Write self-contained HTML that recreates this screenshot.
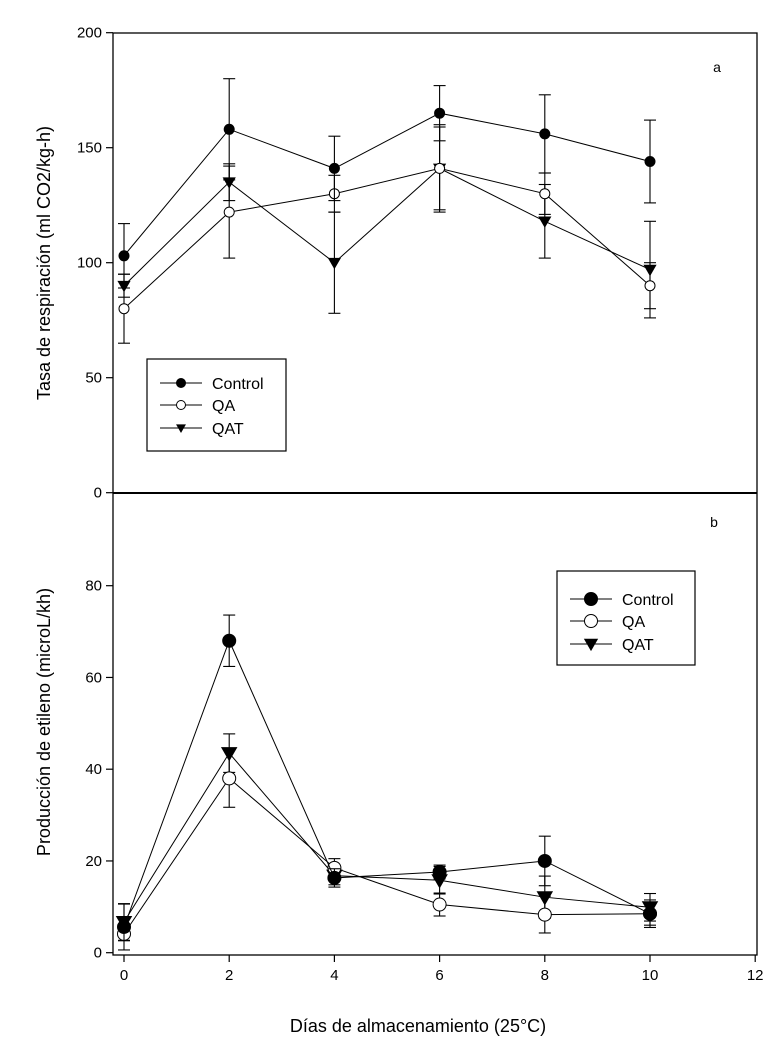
<!DOCTYPE html>
<html><head><meta charset="utf-8"><style>
body{margin:0;background:#fff;}
svg{display:block;font-family:"Liberation Sans",Arial,sans-serif;}
</style></head><body>
<svg id="c" width="775" height="1043" viewBox="0 0 775 1043"></svg>
<script>
const days=[0,2,4,6,8,10];
const xTicks=[0,2,4,6,8,10,12];
const topTicks=[0,50,100,150,200];
const botTicks=[0,20,40,60,80];
const respControl=[103,158,141,165,156,144];
const respControlErr=[14,22,14,12,17,18];
const respQA=[80,122,130,141,130,90];
const respQAErr=[15,20,8,19,9,10];
const respQAT=[90,135,100,141,118,97];
const respQATErr=[5,8,22,18,16,21];
const ethControl=[5.6,68,16.3,17.6,20,8.5];
const ethControlErr=[5,5.6,2,1.5,5.4,2.5];
const ethQA=[4.1,38,18.5,10.5,8.3,8.5];
const ethQAErr=[1.5,6.3,2,2.5,4,3];
const ethQAT=[6.7,43.5,16.8,15.8,12.1,9.9];
const ethQATErr=[4,4.2,2,3,4.6,3];

const NS="http://www.w3.org/2000/svg";
const svg=document.getElementById('c');
function mk(tag,attrs,parent){const e=document.createElementNS(NS,tag);for(const k in attrs)e.setAttribute(k,attrs[k]);(parent||svg).appendChild(e);return e;}
const L=113,R=757,T=33,M=493,B=955;
const xS=v=>124+v*52.6;
const yTop=v=>492.7-v*2.3;
const yBot=v=>952.7-v*4.5875;

// frame
let f=mk('rect',{x:L,y:T,width:R-L,height:B-T,fill:'none',stroke:'#000','stroke-width':1.3});


let ml=mk('line',{x1:L,x2:R,y1:M,y2:M,stroke:'#000','stroke-width':2});



function text(x,y,s,size,anchor,name,extra){const t=mk('text',Object.assign({x:x,y:y,'font-size':size,'text-anchor':anchor,fill:'#000'},extra||{}));t.textContent=s;


return t;}

topTicks.forEach(v=>{const y=yTop(v);
 const l=mk('line',{x1:L-7,x2:L,y1:y,y2:y,stroke:'#000','stroke-width':1.2});
 
 
 text(L-11,y+5,String(v),15,'end','y-tick-label-top');});
botTicks.forEach(v=>{const y=yBot(v);
 const l=mk('line',{x1:L-7,x2:L,y1:y,y2:y,stroke:'#000','stroke-width':1.2});
 
 
 text(L-11,y+5,String(v),15,'end','y-tick-label-bottom');});
xTicks.forEach(v=>{const x=xS(v);
 const l=mk('line',{x1:x,x2:x,y1:B,y2:B+7,stroke:'#000','stroke-width':1.2});
 
 
 text(x,B+25,String(v),15,'middle','x-tick-label');});

text(418,1032,'Días de almacenamiento (25°C)',18,'middle','x-axis-title');
text(50,263,'Tasa de respiración (ml CO2/kg-h)',18,'middle','y-axis-title-top',{transform:'rotate(-90 50 263)'});
text(50,722,'Producción de etileno (microL/kh)',18,'middle','y-axis-title-bottom',{transform:'rotate(-90 50 722)'});
text(717,72,'a',14,'middle','panel-label-a');
text(714,527,'b',14,'middle','panel-label-b');

function marker(x,y,type,r,name){let e;
 if(type==='tri'){e=mk('polygon',{points:`${x-r*1.1},${y-r*0.8} ${x+r*1.1},${y-r*0.8} ${x},${y+r*1.1}`,fill:'#000'});}
 else e=mk('circle',{cx:x,cy:y,r:r,fill:type==='open'?'#fff':'#000',stroke:'#000','stroke-width':1});
 
 }

function series(vals,errs,ys,type,r,name){
 const g=mk('g',{});
 
 
 errs.forEach((e,i)=>{const x=xS(days[i]);
  mk('line',{x1:x,x2:x,y1:ys(vals[i]+e),y2:ys(vals[i]-e),stroke:'#000','stroke-width':1.1},g);
  [vals[i]+e,vals[i]-e].forEach(v=>mk('line',{x1:x-6,x2:x+6,y1:ys(v),y2:ys(v),stroke:'#000','stroke-width':1.1},g));});
 mk('polyline',{points:vals.map((v,i)=>xS(days[i])+','+ys(v)).join(' '),fill:'none',stroke:'#000','stroke-width':1},g);
 vals.forEach((v,i)=>marker(xS(days[i]),ys(v),type,r,name+'-point'));}

series(respQAT,respQATErr,yTop,'tri',6,'resp-qat');
series(respQA,respQAErr,yTop,'open',5,'resp-qa');
series(respControl,respControlErr,yTop,'fill',5,'resp-control');
series(ethQAT,ethQATErr,yBot,'tri',7.5,'eth-qat');
series(ethQA,ethQAErr,yBot,'open',6.5,'eth-qa');
series(ethControl,ethControlErr,yBot,'fill',6.5,'eth-control');

function legend(x,y,w,h,rows,r,name){
 const b=mk('rect',{x:x,y:y,width:w,height:h,fill:'#fff',stroke:'#000','stroke-width':1.2});
 
 
 const labels=['Control','QA','QAT'],types=['fill','open','tri'];
 labels.forEach((s,i)=>{const yy=y+rows[i];
  const l=mk('line',{x1:x+13,x2:x+55,y1:yy,y2:yy,stroke:'#000','stroke-width':1});
  
  
  marker(x+34,yy,types[i],r,'legend-marker');
  text(x+65,yy+6,s,16,'start','legend-entry-'+s.toLowerCase());});}
legend(147,359,139,92,[24,46,69],4.5,'legend-top');
legend(557,571,138,94,[28,50,73],6.5,'legend-bottom');
</script>
</body></html>
